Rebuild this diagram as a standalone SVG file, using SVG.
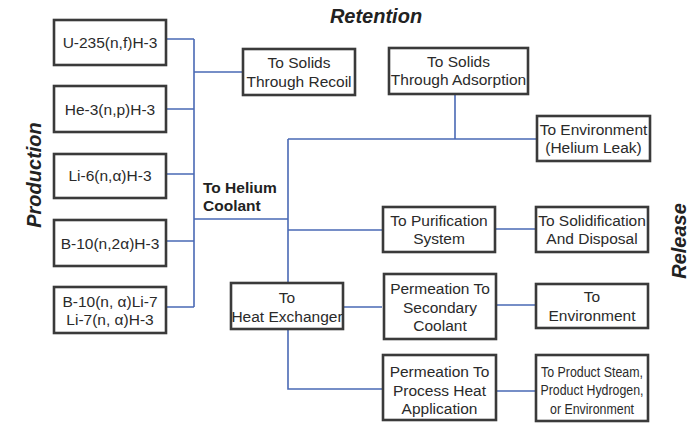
<svg xmlns="http://www.w3.org/2000/svg" width="699" height="428" viewBox="0 0 699 428">
<style>
.box{fill:#fff;stroke:#3a3a3a;stroke-width:2.6}
.t{font-family:"Liberation Sans",Arial,sans-serif;font-size:15.5px;fill:#2a2a2a;text-anchor:middle}
.b{font-family:"Liberation Sans",Arial,sans-serif;font-size:15.5px;font-weight:bold;fill:#222}
.h{font-family:"Liberation Sans",Arial,sans-serif;font-size:20px;font-weight:bold;font-style:italic;fill:#222;text-anchor:middle}
.c{fill:none;stroke:#4a69b5;stroke-width:1.6}
</style>
<rect width="699" height="428" fill="#fff"/>
<g id="connectors" class="c">
<path d="M167 39H194M167 109H194M167 174H194M167 241H194M167 307H194M194 39V307M194 72H242M194 219H288M288 139V282M288 139H536M455 95V139M288 230H382M496 229H535M344 307H382M497 305H535M288 330V389H382M497 391H535"/>
</g>
<text class="h" x="376" y="23">Retention</text>
<text class="h" transform="translate(41 175) rotate(-90)">Production</text>
<text class="h" transform="translate(686 241) rotate(-90)">Release</text>
<text class="b" x="203" y="193">To Helium</text>
<text class="b" x="203" y="211">Coolant</text>
<g id="u235"><rect class="box" x="54" y="20" width="112" height="45"/><text class="t" x="110" y="48">U-235(n,f)H-3</text></g>
<g id="he3"><rect class="box" x="54" y="86" width="112" height="46"/><text class="t" x="110" y="115">He-3(n,p)H-3</text></g>
<g id="li6"><rect class="box" x="54" y="154" width="112" height="44"/><text class="t" x="110" y="181">Li-6(n,α)H-3</text></g>
<g id="b10"><rect class="box" x="54" y="220" width="112" height="46"/><text class="t" x="110" y="249">B-10(n,2α)H-3</text></g>
<g id="b10li7"><rect class="box" x="54" y="287" width="112" height="46"/><text class="t" x="110" y="307">B-10(n, α)Li-7</text><text class="t" x="110" y="325">Li-7(n, α)H-3</text></g>
<g id="recoil"><rect class="box" x="243" y="49" width="112" height="46"/><text class="t" x="299" y="68">To Solids</text><text class="t" x="299" y="87">Through Recoil</text></g>
<g id="adsorption"><rect class="box" x="389" y="48" width="139" height="46"/><text class="t" x="458.5" y="67">To Solids</text><text class="t" x="458.5" y="85">Through Adsorption</text></g>
<g id="leak"><rect class="box" x="537" y="116" width="113" height="45"/><text class="t" x="593.5" y="135">To Environment</text><text class="t" x="593.5" y="153">(Helium Leak)</text></g>
<g id="purification"><rect class="box" x="383" y="207" width="112" height="45"/><text class="t" x="439" y="226">To Purification</text><text class="t" x="439" y="244">System</text></g>
<g id="solidification"><rect class="box" x="536" y="207" width="112" height="45"/><text class="t" x="592" y="226">To Solidification</text><text class="t" x="592" y="244">And Disposal</text></g>
<g id="heatexchanger"><rect class="box" x="231" y="283" width="112" height="46"/><text class="t" x="287" y="303">To</text><text class="t" x="287" y="322">Heat Exchanger</text></g>
<g id="secondary"><rect class="box" x="384" y="274" width="112" height="65"/><text class="t" x="440" y="294">Permeation To</text><text class="t" x="440" y="313">Secondary</text><text class="t" x="440" y="331">Coolant</text></g>
<g id="environment"><rect class="box" x="536" y="284" width="112" height="44"/><text class="t" x="592" y="302">To</text><text class="t" x="592" y="321">Environment</text></g>
<g id="processheat"><rect class="box" x="383" y="355" width="113" height="65"/><text class="t" x="439.5" y="377">Permeation To</text><text class="t" x="439.5" y="396">Process Heat</text><text class="t" x="439.5" y="414">Application</text></g>
<g id="product"><rect class="box" x="536" y="355" width="112" height="66"/><text class="t" x="592" y="377" textLength="102" lengthAdjust="spacingAndGlyphs">To Product Steam,</text><text class="t" x="592" y="395" textLength="103" lengthAdjust="spacingAndGlyphs">Product Hydrogen,</text><text class="t" x="592" y="414" textLength="84" lengthAdjust="spacingAndGlyphs">or Environment</text></g>
</svg>
